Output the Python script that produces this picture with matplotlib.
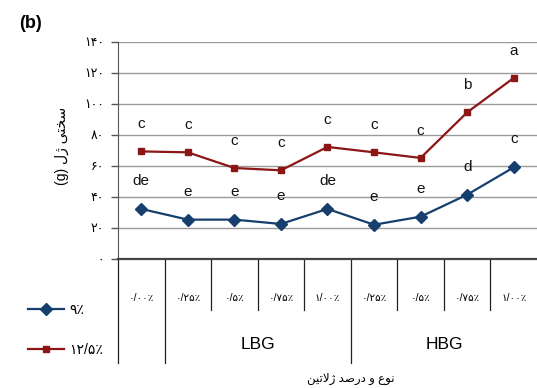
import matplotlib
matplotlib.use("Agg")
import matplotlib.pyplot as plt

plt.rcParams['font.family'] = ['Liberation Sans', 'DejaVu Sans']

# gel hardness (g) for each gelatin type / level
levels = ['0/00%', '0/25%', '0/5%', '0/75%', '1/00%', '0/25%', '0/5%', '0/75%', '1/00%']
groups = ['LBG', 'HBG']
hard_9 = [32.3, 25.4, 25.4, 22.6, 32.3, 22.1, 27.3, 41.5, 59.1]
hard_125 = [69.4, 68.8, 58.7, 57.2, 72.3, 68.8, 65.2, 94.6, 116.8]
letters_9 = ['de', 'e', 'e', 'e', 'de', 'e', 'e', 'd', 'c']
letters_125 = ['c', 'c', 'c', 'c', 'c', 'c', 'c', 'b', 'a']
yticks = [0, 20, 40, 60, 80, 100, 120, 140]
series_names = ['9%', '12/5%']

FA = str.maketrans('0123456789%', '\u06f0\u06f1\u06f2\u06f3\u06f4\u06f5\u06f6\u06f7\u06f8\u06f9\u066a')


def fa(s):
    return str(s).translate(FA)


# pre-shaped persian strings (presentation forms, visual order)
ylab = '(g) \ufedd\ufb8a \ufef0\ufe98\ufea8\ufeb3'
xlab = '\ufee6\ufef4\ufe97\ufefb\ufb8a \ufeaa\ufebb\ufead\ufea9 \ufeed \ufec9\ufeee\ufee7'

blue = '#173f6e'
red = '#8c1515'

fig = plt.figure(figsize=(5.37, 3.88), dpi=100)
ax = fig.add_axes([0.2197, 0.3325, 0.7803, 0.5593])

x = list(range(len(levels)))
l1, = ax.plot(x, hard_9, color=blue, lw=1.6, marker='D', ms=6.5, label=fa(series_names[0]))
l2, = ax.plot(x, hard_125, color=red, lw=1.6, marker='s', ms=5, label=fa(series_names[1]))

for xi, v, t in zip(x, hard_9, letters_9):
    ax.annotate(t, (xi, v), xytext=(0, 28), textcoords='offset pixels',
                ha='center', va='center', fontsize=11, color='#111')
for xi, v, t in zip(x, hard_125, letters_125):
    ax.annotate(t, (xi, v), xytext=(0, 27), textcoords='offset pixels',
                ha='center', va='center', fontsize=11, color='#111')

ax.set_xlim(-0.5, 8.5)
ax.set_ylim(0, 140)
ax.set_yticks(yticks)
ax.set_yticklabels([fa(t) for t in yticks], fontsize=9)
ax.tick_params(axis='y', length=5, width=1, color='#555', pad=5)
ax.set_xticks([])
ax.grid(axis='y', color='#9a9a9a', lw=1)
ax.set_axisbelow(True)
for s in ['top', 'right']:
    ax.spines[s].set_visible(False)
ax.spines['left'].set_color('#555')
ax.spines['bottom'].set_color('#444')
ax.spines['bottom'].set_linewidth(1.6)

# two-level category axis
tr = ax.get_xaxis_transform()
for b in [i + 0.5 for i in range(len(levels) - 1)] + [-0.5]:
    lo = -0.479 if b in (-0.5, 0.5, 4.5) else -0.235
    ax.plot([b, b], [0, lo], color='#222', lw=0.9, transform=tr, clip_on=False)
for xi, lab in zip(x, levels):
    ax.text(xi, -0.18, fa(lab), transform=tr, ha='center', va='center', fontsize=7.5)
for gx, g in zip([2.5, 6.5], groups):
    ax.text(gx, -0.395, g, transform=tr, ha='center', va='center', fontsize=12.5)

ax.text(4.5, -0.555, xlab, transform=tr, ha='center', va='center', fontsize=8.5)
fig.text(0.115, 0.625, ylab, rotation=90, ha='center', va='center', fontsize=10)
fig.text(0.056, 0.94, '(b)', fontsize=13, fontweight='bold', ha='center', va='center')

fig.legend(handles=[l1, l2], loc='center left', bbox_to_anchor=(0.028, 0.15),
           frameon=False, handlelength=2.6, labelspacing=1.9, handletextpad=0.4,
           fontsize=10)

fig.savefig('out.png', dpi=100)
